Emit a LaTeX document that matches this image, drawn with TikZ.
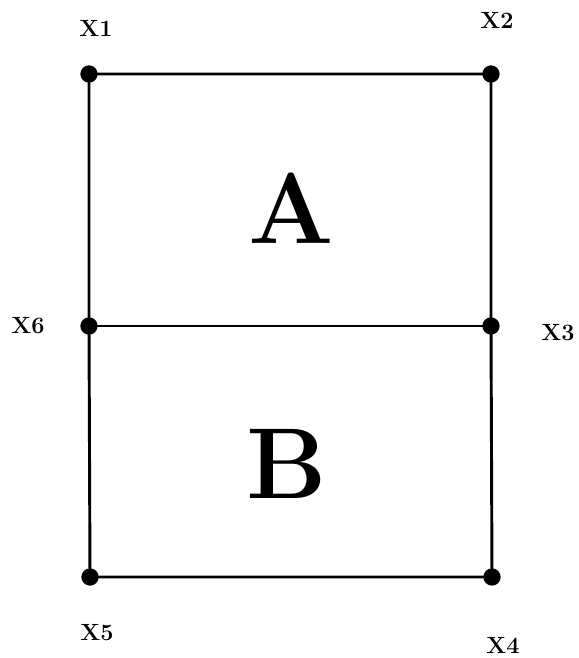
\documentclass[tikz,border=0pt]{standalone}
\usepackage{fontspec}
\setmainfont{Latin Modern Roman}
\begin{document}
\begin{tikzpicture}[
    x=0.03cm,
    y=0.03cm,
    corner/.style={circle,fill=black,inner sep=0pt,minimum size=0.52cm},
    edge/.style={line width=2.5pt},
    cornerlabel/.style={font=\fontsize{20}{24}\selectfont\bfseries},
    bigletter/.style={font=\fontsize{86}{90}\selectfont\bfseries}
  ]
    \useasboundingbox (0,0) rectangle (579,658);

    \node[corner] (x1) at (89,584) {};
    \node[corner] (x2) at (491,584) {};
    \node[corner] (x3) at (491,332) {};
    \node[corner] (x4) at (492,81) {};
    \node[corner] (x5) at (90,81) {};
    \node[corner] (x6) at (89,332) {};

    \draw[edge] (x1.center) -- (x2.center) -- (x3.center) -- (x4.center)
      -- (x5.center) -- (x6.center) -- cycle;
    \draw[edge] (x6.center) -- (x3.center);

    \node[cornerlabel] (l1) at (96,630) {X1};
    \node[cornerlabel] (l2) at (497,638) {X2};
    \node[cornerlabel] (l3) at (558,325) {X3};
    \node[cornerlabel] (l4) at (503,13) {X4};
    \node[cornerlabel] (l5) at (97,25) {X5};
    \node[cornerlabel] (l6) at (28,332) {X6};

    \node[bigletter] (a) at (291,450) {A};
    \node[bigletter] (b) at (287,194) {B};
  \end{tikzpicture}
\end{document}
